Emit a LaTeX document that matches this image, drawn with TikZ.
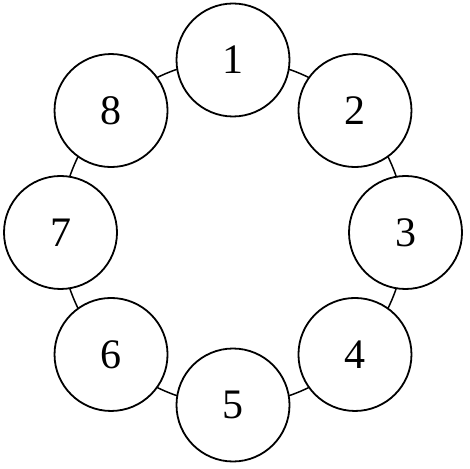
\documentclass[tikz,border=0pt]{standalone}
\usepackage{fontspec}
\setmainfont{Liberation Serif}
\usetikzlibrary{calc}
\begin{document}
\begin{tikzpicture}[x=1pt,y=1pt,
  numnode/.style={circle,draw=black,line width=1.8pt,fill=white,minimum size=113pt,inner sep=0pt,font=\fontsize{42}{42}\selectfont}]
\useasboundingbox (0,0) rectangle (470,468);
\coordinate (c) at (233,235.5);
\draw[line width=1.5pt] (c) circle (172.5);
\foreach \i in {1,...,8}{
  \pgfmathsetmacro{\ang}{90-45*(\i-1)}
  \node[numnode] (n\i) at ($(c)+(\ang:172.5)$) {\i};
}
\end{tikzpicture}
\end{document}
